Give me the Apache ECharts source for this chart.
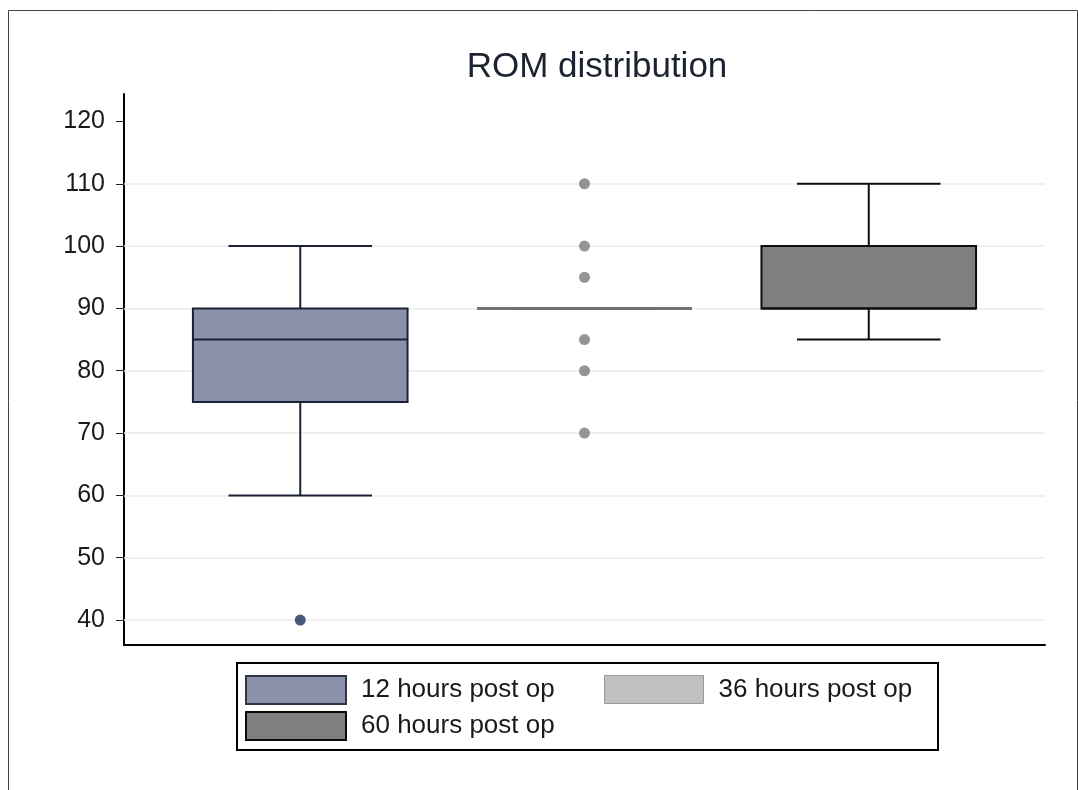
<!DOCTYPE html>
<html>
<head>
<meta charset="utf-8">
<script src="https://cdn.jsdelivr.net/npm/echarts@6/dist/echarts.min.js"></script>
<style>html,body{margin:0;padding:0;background:#fff;}#c{width:1078px;height:790px;}</style>
</head>
<body>
<div id="c"></div>
<script>
// ---- data ----
const categories = ['12 hours post op', '36 hours post op', '60 hours post op'];
const whiskerLow  = [60, 90, 85];
const q1Values    = [75, 90, 90];
const medians     = [85, 90, 90];
const q3Values    = [90, 90, 100];
const whiskerHigh = [100, 90, 110];
const outliers12  = [40];
const outliers36  = [110, 100, 95, 85, 80, 70];
const yTicks      = [40, 50, 60, 70, 80, 90, 100, 110, 120];
const gridTicks   = [40, 50, 60, 70, 80, 90, 100, 110];

// ---- styles ----
const fills   = ['#8c91aa', '#c0c0c0', '#7f7f7f'];
const strokes = ['#1b2233', '#6e6e6e', '#0d0d0d'];
const swatchBorders = ['#2f3547', '#9a9a9a', '#0a0a0a'];
const FONT = "'Liberation Sans', Arial, sans-serif";

function makeRender(idx) {
  return function (params, api) {
    const x = api.value(0);
    const lo = api.value(1), q1 = api.value(2), med = api.value(3), q3 = api.value(4), hi = api.value(5);
    const band = api.size([1, 0])[0];
    const bw = band * 0.755, cw = band * 0.505;
    const cx = api.coord([x, med])[0];
    const yLo = api.coord([x, lo])[1], yQ1 = api.coord([x, q1])[1], yMed = api.coord([x, med])[1];
    const yQ3 = api.coord([x, q3])[1], yHi = api.coord([x, hi])[1];
    const ls = { stroke: strokes[idx], lineWidth: 2 };
    const children = [];
    children.push({ type: 'line', shape: { x1: cx, y1: yQ3, x2: cx, y2: yHi }, style: ls });
    children.push({ type: 'line', shape: { x1: cx, y1: yQ1, x2: cx, y2: yLo }, style: ls });
    children.push({ type: 'line', shape: { x1: cx - cw / 2, y1: yHi, x2: cx + cw / 2, y2: yHi }, style: ls });
    children.push({ type: 'line', shape: { x1: cx - cw / 2, y1: yLo, x2: cx + cw / 2, y2: yLo }, style: ls });
    children.push({ type: 'rect', shape: { x: cx - bw / 2, y: yQ3, width: bw, height: yQ1 - yQ3 },
      style: { fill: fills[idx], stroke: strokes[idx], lineWidth: idx === 1 ? 2.5 : 2 } });
    children.push({ type: 'line', shape: { x1: cx - bw / 2, y1: yMed, x2: cx + bw / 2, y2: yMed },
      style: { stroke: strokes[idx], lineWidth: idx === 1 ? 2.5 : 2 } });
    return { type: 'group', children: children };
  };
}

const boxSeries = categories.map(function (name, i) {
  return {
    name: name,
    type: 'custom',
    renderItem: makeRender(i),
    encode: { x: 0, y: [1, 2, 3, 4, 5] },
    data: [[i + 1, whiskerLow[i], q1Values[i], medians[i], q3Values[i], whiskerHigh[i]]],
    z: 10,
    silent: true
  };
});

const chart = echarts.init(document.getElementById('c'), null, { renderer: 'canvas' });

const option = {
  backgroundColor: '#ffffff',
  animation: false,
  textStyle: { fontFamily: FONT },
  title: {
    text: 'ROM distribution',
    left: 592,
    top: 45,
    textAlign: 'center',
    textStyle: { fontFamily: FONT, fontSize: 35, fontWeight: 'normal', color: '#1c2230' }
  },
  grid: { left: 124, top: 94, width: 921, height: 551, containLabel: false },
  xAxis: {
    type: 'value',
    min: 0.38,
    max: 3.62,
    axisLine: { show: true, onZero: false, lineStyle: { color: '#000', width: 2 } },
    axisTick: { show: false },
    axisLabel: { show: false },
    splitLine: { show: false }
  },
  yAxis: {
    type: 'value',
    min: 36,
    max: 124.4,
    axisLine: { show: true, lineStyle: { color: '#000', width: 2 } },
    axisTick: { show: true, length: 8, customValues: yTicks, lineStyle: { color: '#222', width: 1 } },
    axisLabel: { customValues: yTicks, margin: 19, fontSize: 25, color: '#1a1a1a', fontFamily: FONT },
    splitLine: { show: false }
  },
  legend: [
    { data: [{ name: categories[0], icon: 'rect', itemStyle: { color: fills[0], borderColor: swatchBorders[0], borderWidth: 2 } }],
      left: 245, top: 675, padding: 0, itemWidth: 100, itemHeight: 28, selectedMode: false,
      textStyle: { fontSize: 26, color: '#1a1a1a', fontFamily: FONT, padding: [0, 0, 0, 10] } },
    { data: [{ name: categories[1], icon: 'rect', itemStyle: { color: fills[1], borderColor: swatchBorders[1], borderWidth: 1 } }],
      left: 604, top: 675, padding: 0, itemWidth: 99, itemHeight: 28, selectedMode: false,
      textStyle: { fontSize: 26, color: '#1a1a1a', fontFamily: FONT, padding: [0, 0, 0, 10] } },
    { data: [{ name: categories[2], icon: 'rect', itemStyle: { color: fills[2], borderColor: swatchBorders[2], borderWidth: 2 } }],
      left: 245, top: 711, padding: 0, itemWidth: 100, itemHeight: 28, selectedMode: false,
      textStyle: { fontSize: 26, color: '#1a1a1a', fontFamily: FONT, padding: [0, 0, 0, 10] } }
  ],
  graphic: [
    { type: 'rect', shape: { x: 8.5, y: 10.5, width: 1069, height: 800 }, style: { fill: 'none', stroke: '#444', lineWidth: 1 }, silent: true, z: -10 },
    { type: 'rect', shape: { x: 237, y: 663, width: 701, height: 87 }, style: { fill: 'none', stroke: '#000', lineWidth: 2 }, silent: true }
  ],
  series: boxSeries.concat([
    {
      name: 'gridlines',
      type: 'line',
      data: [],
      silent: true,
      z: 1,
      markLine: {
        silent: true,
        z: 1,
        symbol: 'none',
        label: { show: false },
        lineStyle: { color: '#ebebeb', width: 1.5, type: 'solid' },
        data: gridTicks.map(function (v) { return { yAxis: v }; })
      }
    },
    {
      name: categories[0],
      type: 'scatter',
      symbolSize: 11,
      itemStyle: { color: '#1a2f58' },
      data: outliers12.map(function (v) { return [1, v]; }),
      z: 11,
      silent: true
    },
    {
      name: categories[1],
      type: 'scatter',
      symbolSize: 11,
      itemStyle: { color: '#7b7b7b' },
      data: outliers36.map(function (v) { return [2, v]; }),
      z: 11,
      silent: true
    }
  ])
};
chart.setOption(option);
</script>
</body>
</html>
